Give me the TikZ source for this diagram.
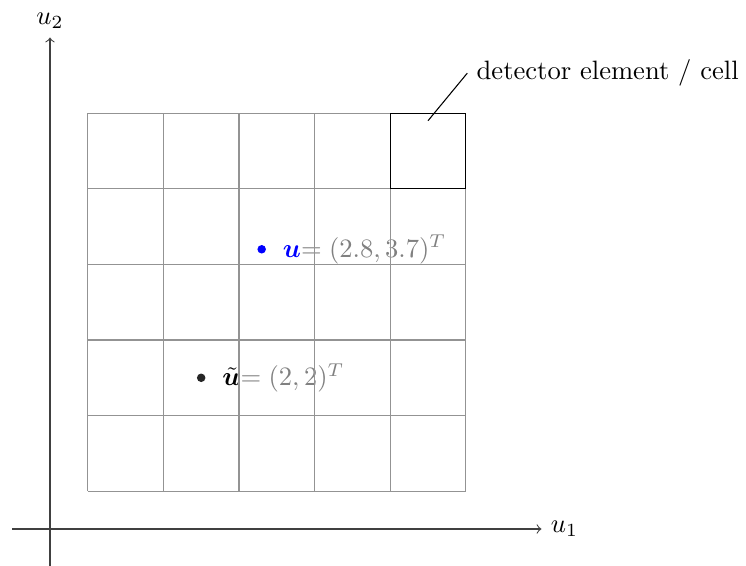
\documentclass[tikz,border=0pt]{standalone}
\usepackage{amsmath}
\usepackage{amssymb}
\usepackage{bm}
\usepackage{tikz}
\usetikzlibrary{positioning,calc}

\begin{document}
\begin{tikzpicture}[
    axis/.style={->, thin, draw=black!75},
    cellgrid/.style={thin, gray!85},
    pixel/.style={thin, black},
    dot/.style={circle, fill, inner sep=0pt, minimum size=3.2pt},
    ptlabel/.style={right=5pt of #1, inner sep=1pt, text=gray}
]
\useasboundingbox (-0.661,-0.476) rectangle (9.206,6.997);

% axes
\draw[axis] (-0.5,0) -- (6.5,0) node[right, text=black] (ax1) {$u_1$};
\draw[axis] (0,-0.5) -- (0,6.5) node[above, text=black] (ax2) {$u_2$};

% the two points, their labels first so that the grid lies over them
\node[dot, blue] (u) at (2.8,3.7) {};
\node[ptlabel=u] (ulabel) {\textcolor{blue}{$\bm{u}$}$=(2.8, 3.7)^T$};
\node[dot, black!85] (ut) at (2,2) {};
\node[ptlabel=ut] (utlabel) {\textcolor{black}{$\tilde{\bm{u}}$}$=(2, 2)^T$};

% detector grid
\foreach \k in {0,...,5} {
    \draw[cellgrid] (0.5+\k,0.5) -- (0.5+\k,5.5);
    \draw[cellgrid] (0.5,0.5+\k) -- (5.5,0.5+\k);
}
\draw[pixel] (4.5,4.5) rectangle (5.5,5.5);

% annotation of one cell
\coordinate (pick) at (5,5.4);
\node[anchor=west] (celltxt) at (5.52,6.03) {detector element / cell};
\draw[thin] (pick) -- (celltxt.west);
\end{tikzpicture}
\end{document}
